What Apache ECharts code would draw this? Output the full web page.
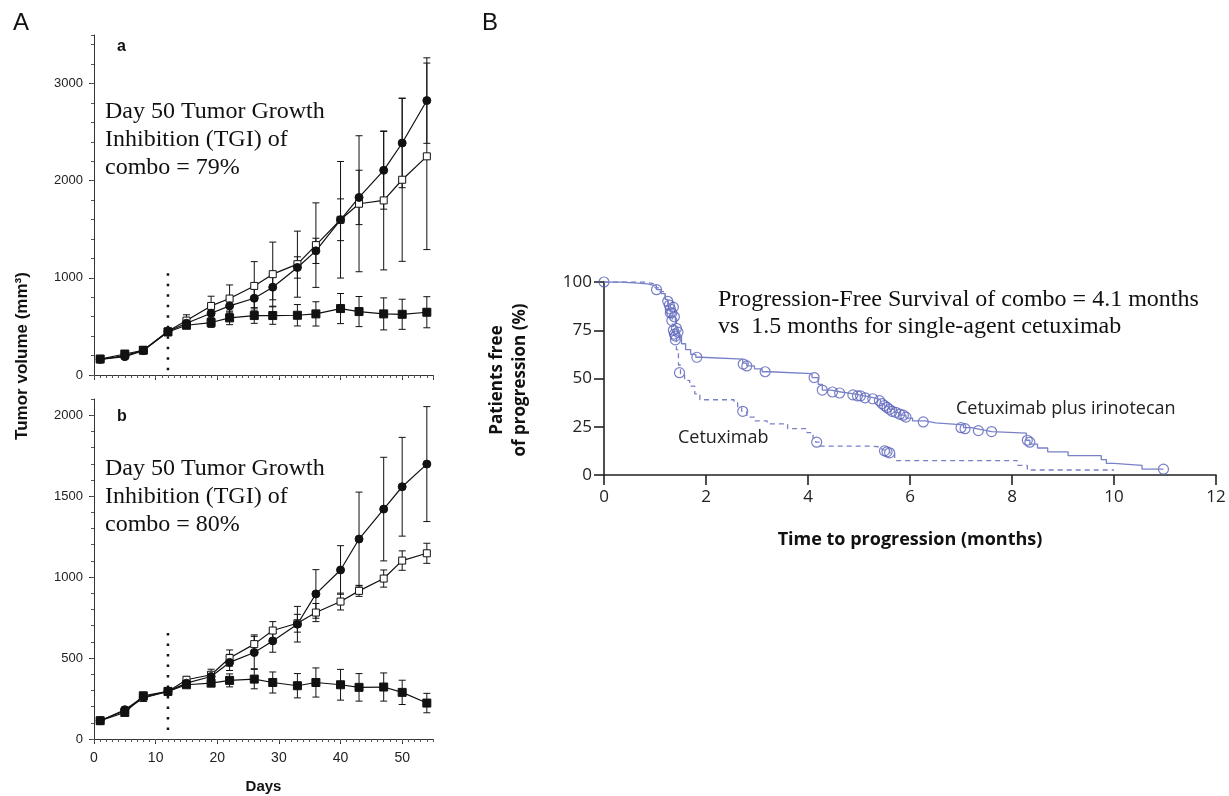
<!DOCTYPE html>
<html>
<head>
<meta charset="utf-8">
<script src="https://cdn.jsdelivr.net/npm/echarts@6/dist/echarts.min.js"></script>
<style>
html,body{margin:0;padding:0;background:#fff;}
#main{width:1229px;height:796px;}
</style>
</head>
<body>
<div id="main"></div>
<script>
// measurement days (panels a and b)
var days = [1, 5, 8, 12, 15, 19, 22, 26, 29, 33, 36, 40, 43, 47, 50, 54];

// panel a : means and half error bars
var aCircle    = [161, 189, 251, 447, 533, 636, 711, 790, 904, 1107, 1278, 1598, 1828, 2107, 2388, 2825];
var aCircleErr = [10, 15, 20, 25, 40, 70, 80, 100, 130, 110, 130, 215, 280, 400, 460, 440];
var aOpen      = [161, 200, 255, 450, 560, 711, 787, 917, 1038, 1141, 1337, 1598, 1763, 1797, 2010, 2251];
var aOpenErr   = [10, 15, 20, 25, 60, 100, 140, 250, 330, 340, 435, 600, 700, 715, 840, 960];
var aFilled    = [165, 216, 255, 443, 512, 540, 588, 612, 612, 615, 629, 684, 653, 629, 625, 646];
var aFilledErr = [10, 15, 20, 25, 30, 50, 70, 80, 90, 110, 125, 155, 155, 165, 155, 160];

// panel b
var bCircle    = [113, 181, 259, 294, 345, 386, 473, 534, 606, 709, 896, 1044, 1235, 1420, 1558, 1698];
var bCircleErr = [10, 15, 20, 20, 25, 30, 50, 100, 70, 110, 150, 150, 290, 320, 305, 355];
var bOpen      = [113, 175, 253, 294, 366, 397, 500, 586, 670, 715, 781, 849, 915, 991, 1102, 1147];
var bOpenErr   = [10, 12, 15, 15, 20, 34, 50, 57, 55, 55, 56, 52, 34, 53, 60, 62];
var bFilled    = [113, 164, 267, 294, 335, 345, 362, 370, 349, 329, 349, 335, 319, 321, 288, 222];
var bFilledErr = [10, 12, 15, 15, 15, 20, 40, 60, 65, 75, 90, 95, 85, 87, 75, 60];

// dosing stop marker
var cutoffDay = 12;
var aCutoffRange = [50, 1080];
var bCutoffRange = [55, 660];

// panel B : Kaplan-Meier steps [months, % free]
var comboSteps = [[0,100],[0.3,99.5],[0.6,99],[0.85,98],[1.03,96],[1.12,94],[1.2,91],[1.25,88],[1.3,85],
  [1.35,82],[1.4,78],[1.43,75],[1.47,72],[1.52,68],[1.6,65],[1.7,62.5],[1.8,61],[1.9,60],[2.72,58],
  [2.8,56.5],[2.95,55],[3.1,53.5],[3.25,52.5],[4.08,50.5],[4.2,47],[4.28,44],[4.45,43],[4.65,42],
  [4.9,41],[5.1,40],[5.3,39],[5.42,37],[5.5,35.5],[5.6,34],[5.7,32.5],[5.8,31],[5.92,29.5],[6.05,28],
  [6.3,27],[6.5,26],[7.05,24.5],[7.2,23.5],[7.4,22.5],[7.6,21.7],[8.28,18],[8.35,16],[8.5,14],
  [8.7,12],[9.1,10],[9.75,8],[9.85,6],[10.0,5],[10.55,3],[10.97,3]];
var comboCensor = [[0,100],[1.03,96],[1.25,90],[1.28,88],[1.3,86],[1.33,84],[1.36,87],[1.38,82],
  [1.42,76],[1.45,74],[1.4,72],[1.82,61],[2.73,57.5],[2.8,56.5],[3.16,53.5],[4.12,50.5],[4.28,44],
  [4.48,43],[4.62,42.5],[4.88,41.5],[4.97,41],[5.03,41],[5.12,40],[5.27,39.5],[5.4,38.5],[5.45,37],
  [5.5,36],[5.55,35],[5.6,34],[5.65,33],[5.72,32.5],[5.8,31.5],[5.87,31],[5.92,30],[6.26,27.5],
  [7.0,24.5],[7.08,24],[7.34,23],[7.6,22.5],[8.3,18],[8.35,17],[10.97,3]];
var cetuxSteps = [[0,100],[0.5,100],[0.8,99],[1.0,97],[1.1,95],[1.2,91],[1.26,87],[1.3,82],[1.34,77],
  [1.38,72],[1.42,65],[1.46,57],[1.5,52],[1.58,49],[1.68,46],[1.78,42],[1.88,39],[2.55,37.5],
  [2.62,35],[2.7,33],[2.8,30],[2.95,28],[3.2,26.5],[3.6,24],[3.98,22],[4.1,19],[4.15,17],[4.22,15],
  [5.2,14.5],[5.45,13],[5.6,11.5],[5.7,7.5],[7.98,7.5],[8.1,5],[8.3,2.6],[10.0,2.6]];
var cetuxCensor = [[1.3,84],[1.33,80],[1.36,75],[1.38,73],[1.4,70],[1.48,53],[2.72,33],[4.17,17],
  [5.5,12.5],[5.55,12],[5.6,11.5]];

var kmXTicks = {min: 0, max: 12, interval: 2};
var kmYTicks = {min: 0, max: 100, interval: 25};

var INK = '#111';
var KM_LINE = '#7880c8';
var KM_MARK = '#5860b8';
var SANS = '"Liberation Sans", Arial, sans-serif';
var KMFONT = '"Open Sans", "Noto Sans", sans-serif';
var SERIF = '"Liberation Serif", "Times New Roman", serif';

function pairs(means) {
  var out = [];
  for (var i = 0; i < days.length; i++) out.push([days[i], means[i]]);
  return out;
}
function errData(means, errs) {
  var out = [];
  for (var i = 0; i < days.length; i++) out.push([days[i], means[i], errs[i]]);
  return out;
}
function renderErr(params, api) {
  var x = api.value(0), y = api.value(1), e = api.value(2);
  var top = api.coord([x, y + e]);
  var bot = api.coord([x, y - e]);
  var w = 3.5;
  var st = {stroke: INK, lineWidth: 1};
  return {type: 'group', children: [
    {type: 'line', shape: {x1: top[0], y1: top[1], x2: bot[0], y2: bot[1]}, style: st},
    {type: 'line', shape: {x1: top[0] - w, y1: top[1], x2: top[0] + w, y2: top[1]}, style: st},
    {type: 'line', shape: {x1: bot[0] - w, y1: bot[1], x2: bot[0] + w, y2: bot[1]}, style: st}
  ]};
}

function errSeries(ax, means, errs) {
  return {type: 'custom', xAxisIndex: ax, yAxisIndex: ax, renderItem: renderErr,
    data: errData(means, errs), z: 1, silent: true};
}
function growthSeries(ax, means, kind) {
  var s = {type: 'line', xAxisIndex: ax, yAxisIndex: ax, data: pairs(means), z: 3,
    lineStyle: {color: INK, width: 1.2}, symbolSize: 8, symbol: 'circle',
    itemStyle: {color: INK, borderColor: INK, borderWidth: 1}};
  if (kind == 'open') {
    s.symbol = 'rect'; s.symbolSize = 7;
    s.itemStyle = {color: '#fff', borderColor: INK, borderWidth: 1};
  } else if (kind == 'filled') {
    s.symbol = 'rect'; s.symbolSize = 8;
  }
  return s;
}
function cutoffSeries(ax, range) {
  return {type: 'line', xAxisIndex: ax, yAxisIndex: ax, symbol: 'none', z: 2,
    data: [[cutoffDay, range[0]], [cutoffDay, range[1]]],
    lineStyle: {color: INK, width: 2.5, type: [2.5, 8], cap: 'butt'}};
}
function plain(v) { return String(v); }

function growthX(grid, showLabels) {
  var main = {gridIndex: grid, type: 'value', position: 'bottom', min: 0, max: 55, interval: 10,
    axisLine: {onZero: false, lineStyle: {color: '#333', width: 1}},
    axisTick: {length: 5, lineStyle: {color: '#333'}},
    axisLabel: {show: showLabels, showMaxLabel: false, margin: 12, fontSize: 14, color: '#222',
      fontFamily: SANS, formatter: plain},
    splitLine: {show: false}};
  if (showLabels) {
    main.name = 'Days';
    main.nameLocation = 'middle';
    main.nameGap = 40;
    main.nameTextStyle = {fontSize: 15, fontWeight: 'bold', color: '#111', fontFamily: SANS};
  }
  var minor = {gridIndex: grid, type: 'value', position: 'bottom', min: 0, max: 55, interval: 1,
    axisLine: {show: false}, axisTick: {length: 3, lineStyle: {color: '#555'}},
    axisLabel: {show: false}, splitLine: {show: false}};
  return [main, minor];
}
function growthY(grid, max, major, minorStep) {
  var main = {gridIndex: grid, type: 'value', position: 'left', min: 0, max: max, interval: major,
    axisLine: {show: true, onZero: false, lineStyle: {color: '#333', width: 1}},
    axisTick: {show: true, length: 5, lineStyle: {color: '#333'}},
    axisLabel: {showMaxLabel: false, margin: 11, fontSize: 13, color: '#222', fontFamily: SANS,
      formatter: plain},
    splitLine: {show: false}};
  var minor = {gridIndex: grid, type: 'value', position: 'left', min: 0, max: max, interval: minorStep,
    axisLine: {show: false}, axisTick: {show: true, length: 3, lineStyle: {color: '#555'}},
    axisLabel: {show: false}, splitLine: {show: false}};
  return [main, minor];
}

var xA = growthX(0, false), xB = growthX(1, true);
var yA = growthY(0, 3500, 1000, 200), yB = growthY(1, 2100, 500, 100);

var kmX = {gridIndex: 2, type: 'value', position: 'bottom', min: kmXTicks.min, max: kmXTicks.max,
  interval: kmXTicks.interval,
  axisLine: {onZero: false, lineStyle: {color: '#222', width: 1.6}},
  axisTick: {length: 10, lineStyle: {color: '#222', width: 1.6}},
  axisLabel: {margin: 14, fontSize: 17, color: '#222', fontFamily: KMFONT},
  splitLine: {show: false},
  name: 'Time to progression (months)', nameLocation: 'middle', nameGap: 56,
  nameTextStyle: {fontSize: 18, fontWeight: 'bold', color: '#111', fontFamily: KMFONT}};
var kmY = {gridIndex: 2, type: 'value', position: 'left', min: kmYTicks.min, max: kmYTicks.max,
  interval: kmYTicks.interval,
  axisLine: {show: true, onZero: false, lineStyle: {color: '#222', width: 1.6}},
  axisTick: {show: true, length: 10, lineStyle: {color: '#222', width: 1.6}},
  axisLabel: {margin: 12, fontSize: 17, color: '#222', fontFamily: KMFONT},
  splitLine: {show: false}};

var option = {
  backgroundColor: '#fff',
  animation: false,
  grid: [
    {left: 94, top: 35, width: 339, height: 340, outerBoundsMode: 'none'},
    {left: 94, top: 399, width: 339, height: 340, outerBoundsMode: 'none'},
    {left: 604, top: 282, width: 612, height: 193, outerBoundsMode: 'none'}
  ],
  xAxis: [xA[0], xA[1], xB[0], xB[1], kmX],
  yAxis: [yA[0], yA[1], yB[0], yB[1], kmY],
  series: [
    errSeries(0, aOpen, aOpenErr), errSeries(0, aCircle, aCircleErr), errSeries(0, aFilled, aFilledErr),
    cutoffSeries(0, aCutoffRange),
    growthSeries(0, aOpen, 'open'), growthSeries(0, aCircle, 'circle'), growthSeries(0, aFilled, 'filled'),
    errSeries(2, bOpen, bOpenErr), errSeries(2, bCircle, bCircleErr), errSeries(2, bFilled, bFilledErr),
    cutoffSeries(2, bCutoffRange),
    growthSeries(2, bOpen, 'open'), growthSeries(2, bCircle, 'circle'), growthSeries(2, bFilled, 'filled'),
    {name: 'Cetuximab plus irinotecan', type: 'line', xAxisIndex: 4, yAxisIndex: 4, step: 'end',
      symbol: 'none', data: comboSteps, lineStyle: {color: KM_LINE, width: 1.3}},
    {name: 'Cetuximab', type: 'line', xAxisIndex: 4, yAxisIndex: 4, step: 'end',
      symbol: 'none', data: cetuxSteps, lineStyle: {color: KM_LINE, width: 1.3, type: [5, 4]}},
    {type: 'scatter', xAxisIndex: 4, yAxisIndex: 4, data: comboCensor, symbol: 'circle', symbolSize: 10,
      itemStyle: {color: 'rgba(255,255,255,0)', borderColor: KM_MARK, borderWidth: 1.2}},
    {type: 'scatter', xAxisIndex: 4, yAxisIndex: 4, data: cetuxCensor, symbol: 'circle', symbolSize: 10,
      itemStyle: {color: 'rgba(255,255,255,0)', borderColor: KM_MARK, borderWidth: 1.2}}
  ],
  graphic: [
    {type: 'text', left: 13, top: 11, style: {text: 'A', fontSize: 24, fontFamily: SANS, fill: '#111'}},
    {type: 'text', left: 482, top: 11, style: {text: 'B', fontSize: 24, fontFamily: SANS, fill: '#111'}},
    {type: 'text', x: 117, y: 47, style: {text: 'a', fontSize: 16, fontWeight: 'bold', fontFamily: SANS,
      fill: '#111', textVerticalAlign: 'middle'}},
    {type: 'text', x: 117, y: 417, style: {text: 'b', fontSize: 16, fontWeight: 'bold', fontFamily: SANS,
      fill: '#111', textVerticalAlign: 'middle'}},
    {type: 'text', x: 22, y: 356, rotation: Math.PI / 2, style: {text: 'Tumor volume (mm\u00b3)', fontSize: 17,
      fontWeight: 'bold', fontFamily: SANS, fill: '#111', textAlign: 'center', textVerticalAlign: 'middle'}},
    {type: 'text', x: 105, y: 140, style: {text: 'Day 50 Tumor Growth\nInhibition (TGI) of\ncombo = 79%',
      fontSize: 24, lineHeight: 28, fontFamily: SERIF, fill: '#111', textVerticalAlign: 'middle'}},
    {type: 'text', x: 105, y: 497, style: {text: 'Day 50 Tumor Growth\nInhibition (TGI) of\ncombo = 80%',
      fontSize: 24, lineHeight: 28, fontFamily: SERIF, fill: '#111', textVerticalAlign: 'middle'}},
    {type: 'text', x: 718, y: 313, style: {text: 'Progression-Free Survival of combo = 4.1 months\nvs  1.5 months for single-agent cetuximab',
      fontSize: 24, lineHeight: 27, fontFamily: SERIF, fill: '#111', textVerticalAlign: 'middle'}},
    {type: 'text', x: 509, y: 380, rotation: Math.PI / 2, style: {text: 'Patients free\nof progression (%)',
      fontSize: 17, lineHeight: 23, fontWeight: 'bold', fontFamily: KMFONT, fill: '#111',
      textAlign: 'center', textVerticalAlign: 'middle'}},
    {type: 'text', x: 956, y: 409, style: {text: 'Cetuximab plus irinotecan', fontSize: 18,
      fontFamily: KMFONT, fill: '#222', textVerticalAlign: 'middle'}},
    {type: 'text', x: 678, y: 438, style: {text: 'Cetuximab', fontSize: 18,
      fontFamily: KMFONT, fill: '#222', textVerticalAlign: 'middle'}}
  ]
};

var myChart = echarts.init(document.getElementById('main'));
myChart.setOption(option);
</script>
</body>
</html>
